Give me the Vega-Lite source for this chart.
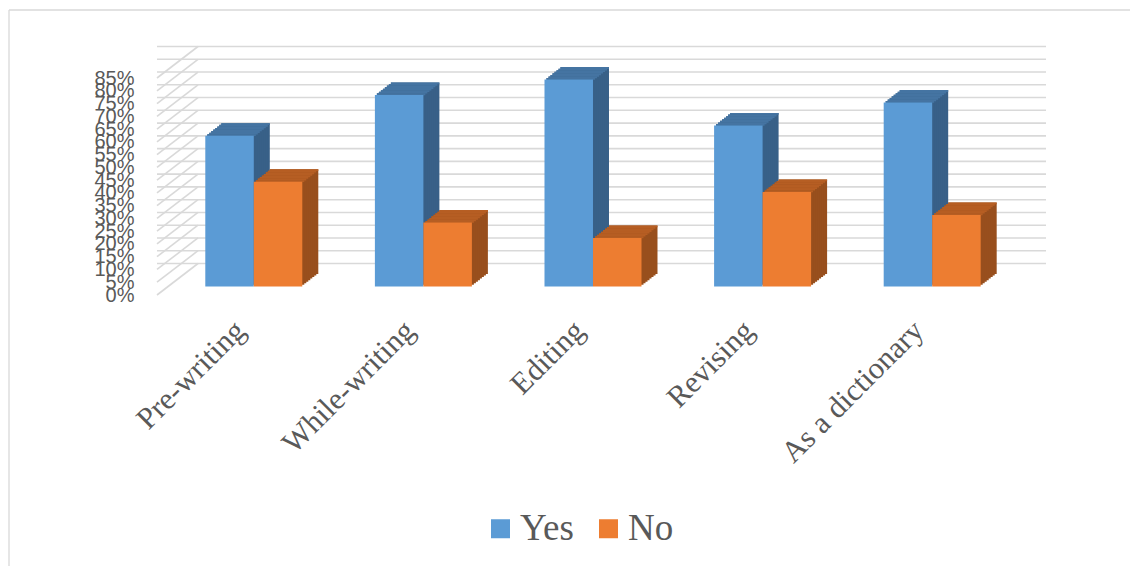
{
  "$schema": "https://vega.github.io/schema/vega-lite/v6.json",
  "width": 848,
  "height": 217,
  "autosize": "none",
  "padding": {"left": 157, "top": 78, "right": 125, "bottom": 271},
  "background": "white",
  "config": {
    "view": {"stroke": null},
    "axisY": {"title": null, "labelExpr": "datum.value + '%'", "labelFont": "Liberation Sans", "labelFontSize": 20, "labelColor": "#595959", "ticks": false, "domain": false, "grid": false, "labelPadding": 23, "labelOverlap": false, "labelBound": false}
  },
  "datasets": {
    "responses": [
      {"Use": "Pre-writing", "Response": "Yes", "Percent": 59},
      {"Use": "Pre-writing", "Response": "No", "Percent": 41},
      {"Use": "While-writing", "Response": "Yes", "Percent": 75},
      {"Use": "While-writing", "Response": "No", "Percent": 25},
      {"Use": "Editing", "Response": "Yes", "Percent": 81},
      {"Use": "Editing", "Response": "No", "Percent": 19},
      {"Use": "Revising", "Response": "Yes", "Percent": 63},
      {"Use": "Revising", "Response": "No", "Percent": 37},
      {"Use": "As a dictionary", "Response": "Yes", "Percent": 72},
      {"Use": "As a dictionary", "Response": "No", "Percent": 28}
    ],
    "grid": [
      {"level": 0}, {"level": 5}, {"level": 10}, {"level": 15}, {"level": 20}, {"level": 25},
      {"level": 30}, {"level": 35}, {"level": 40}, {"level": 45}, {"level": 50}, {"level": 55},
      {"level": 60}, {"level": 65}, {"level": 70}, {"level": 75}, {"level": 80}, {"level": 85}
    ]
  },
  "layer": [
    {
      "data": {"values": [{}]},
      "mark": {"type": "rule", "color": "#D9D9D9", "strokeWidth": 1.3},
      "encoding": {"x": {"value": -148}, "x2": {"value": 973}, "y": {"value": -68}}
    },
    {
      "data": {"values": [{}]},
      "mark": {"type": "rule", "color": "#D9D9D9", "strokeWidth": 1.3},
      "encoding": {"x": {"value": -148}, "y": {"value": -68}, "y2": {"value": 488}}
    },
    {
      "data": {"name": "grid"},
      "mark": {"type": "rule", "color": "#D9D9D9", "strokeWidth": 1.6, "xOffset": 41, "x2Offset": 41, "yOffset": -31.5, "y2Offset": -31.5},
      "encoding": {"y": {"field": "level", "type": "quantitative", "title": null, "scale": {"domain": [0, 85], "nice": false}, "axis": {"values": [0,5,10,15,20,25,30,35,40,45,50,55,60,65,70,75,80,85]}}}
    },
    {
      "data": {"name": "grid"},
      "mark": {"type": "rule", "color": "#D9D9D9", "strokeWidth": 1.6, "y2Offset": -31.5},
      "encoding": {
        "x": {"value": 0}, "x2": {"value": 41},
        "y": {"field": "level", "type": "quantitative", "title": null, "axis": {"values": [0,5,10,15,20,25,30,35,40,45,50,55,60,65,70,75,80,85]}},
        "y2": {"field": "level"}
      }
    },
    {
      "data": {"name": "responses"},
      "encoding": {
        "x": {
          "field": "Use", "type": "nominal",
          "scale": {"domain": ["Pre-writing", "While-writing", "Editing", "Revising", "As a dictionary"], "paddingInner": 0.428, "paddingOuter": 0.214},
          "axis": {"title": null, "labelAngle": -45, "labelFont": "Liberation Serif", "labelFontSize": 30.5, "labelColor": "#595959", "labelPadding": 20, "labelOffset": -12, "ticks": false, "domain": false, "grid": false, "labelLimit": 400, "labelBound": false, "labelOverlap": false}
        },
        "y": {
          "field": "Percent", "type": "quantitative", "title": null,
          "scale": {"domain": [0, 85], "nice": false},
          "axis": {"values": [0,5,10,15,20,25,30,35,40,45,50,55,60,65,70,75,80,85]}
        }
      },
      "layer": [
        {"mark": {"type": "bar", "yOffset": -21.1, "y2Offset": -21.1}, "encoding": {"xOffset": {"field": "Response", "type": "nominal", "scale": {"domain": ["Yes", "No"], "range": [28, 125], "paddingInner": 0, "paddingOuter": 0}}, "color": {"condition": {"test": "datum.Response === 'Yes'", "value": "#386088"}, "value": "#984F1D"}}},
        {"mark": {"type": "bar", "yOffset": -19.54, "y2Offset": -19.54}, "encoding": {"xOffset": {"field": "Response", "type": "nominal", "scale": {"domain": ["Yes", "No"], "range": [26, 123], "paddingInner": 0, "paddingOuter": 0}}, "color": {"condition": {"test": "datum.Response === 'Yes'", "value": "#386088"}, "value": "#984F1D"}}},
        {"mark": {"type": "bar", "yOffset": -17.98, "y2Offset": -17.98}, "encoding": {"xOffset": {"field": "Response", "type": "nominal", "scale": {"domain": ["Yes", "No"], "range": [24, 121], "paddingInner": 0, "paddingOuter": 0}}, "color": {"condition": {"test": "datum.Response === 'Yes'", "value": "#386088"}, "value": "#984F1D"}}},
        {"mark": {"type": "bar", "yOffset": -16.41, "y2Offset": -16.41}, "encoding": {"xOffset": {"field": "Response", "type": "nominal", "scale": {"domain": ["Yes", "No"], "range": [22, 119], "paddingInner": 0, "paddingOuter": 0}}, "color": {"condition": {"test": "datum.Response === 'Yes'", "value": "#386088"}, "value": "#984F1D"}}},
        {"mark": {"type": "bar", "yOffset": -14.85, "y2Offset": -14.85}, "encoding": {"xOffset": {"field": "Response", "type": "nominal", "scale": {"domain": ["Yes", "No"], "range": [20, 117], "paddingInner": 0, "paddingOuter": 0}}, "color": {"condition": {"test": "datum.Response === 'Yes'", "value": "#386088"}, "value": "#984F1D"}}},
        {"mark": {"type": "bar", "yOffset": -13.29, "y2Offset": -13.29}, "encoding": {"xOffset": {"field": "Response", "type": "nominal", "scale": {"domain": ["Yes", "No"], "range": [18, 115], "paddingInner": 0, "paddingOuter": 0}}, "color": {"condition": {"test": "datum.Response === 'Yes'", "value": "#386088"}, "value": "#984F1D"}}},
        {"mark": {"type": "bar", "yOffset": -11.73, "y2Offset": -11.73}, "encoding": {"xOffset": {"field": "Response", "type": "nominal", "scale": {"domain": ["Yes", "No"], "range": [16, 113], "paddingInner": 0, "paddingOuter": 0}}, "color": {"condition": {"test": "datum.Response === 'Yes'", "value": "#386088"}, "value": "#984F1D"}}},
        {"mark": {"type": "bar", "yOffset": -10.16, "y2Offset": -10.16}, "encoding": {"xOffset": {"field": "Response", "type": "nominal", "scale": {"domain": ["Yes", "No"], "range": [14, 111], "paddingInner": 0, "paddingOuter": 0}}, "color": {"condition": {"test": "datum.Response === 'Yes'", "value": "#386088"}, "value": "#984F1D"}}},

        {"mark": {"type": "bar", "yOffset": -21.1, "y2Offset": -19.3}, "encoding": {"y2": {"field": "Percent"}, "xOffset": {"field": "Response", "type": "nominal", "scale": {"domain": ["Yes", "No"], "range": [28, 125], "paddingInner": 0, "paddingOuter": 0}}, "color": {"condition": {"test": "datum.Response === 'Yes'", "value": "#4574A2"}, "value": "#B65E23"}}},
        {"mark": {"type": "bar", "yOffset": -19.54, "y2Offset": -17.74}, "encoding": {"y2": {"field": "Percent"}, "xOffset": {"field": "Response", "type": "nominal", "scale": {"domain": ["Yes", "No"], "range": [26, 123], "paddingInner": 0, "paddingOuter": 0}}, "color": {"condition": {"test": "datum.Response === 'Yes'", "value": "#4574A2"}, "value": "#B65E23"}}},
        {"mark": {"type": "bar", "yOffset": -17.98, "y2Offset": -16.18}, "encoding": {"y2": {"field": "Percent"}, "xOffset": {"field": "Response", "type": "nominal", "scale": {"domain": ["Yes", "No"], "range": [24, 121], "paddingInner": 0, "paddingOuter": 0}}, "color": {"condition": {"test": "datum.Response === 'Yes'", "value": "#4574A2"}, "value": "#B65E23"}}},
        {"mark": {"type": "bar", "yOffset": -16.41, "y2Offset": -14.61}, "encoding": {"y2": {"field": "Percent"}, "xOffset": {"field": "Response", "type": "nominal", "scale": {"domain": ["Yes", "No"], "range": [22, 119], "paddingInner": 0, "paddingOuter": 0}}, "color": {"condition": {"test": "datum.Response === 'Yes'", "value": "#4574A2"}, "value": "#B65E23"}}},
        {"mark": {"type": "bar", "yOffset": -14.85, "y2Offset": -13.05}, "encoding": {"y2": {"field": "Percent"}, "xOffset": {"field": "Response", "type": "nominal", "scale": {"domain": ["Yes", "No"], "range": [20, 117], "paddingInner": 0, "paddingOuter": 0}}, "color": {"condition": {"test": "datum.Response === 'Yes'", "value": "#4574A2"}, "value": "#B65E23"}}},
        {"mark": {"type": "bar", "yOffset": -13.29, "y2Offset": -11.49}, "encoding": {"y2": {"field": "Percent"}, "xOffset": {"field": "Response", "type": "nominal", "scale": {"domain": ["Yes", "No"], "range": [18, 115], "paddingInner": 0, "paddingOuter": 0}}, "color": {"condition": {"test": "datum.Response === 'Yes'", "value": "#4574A2"}, "value": "#B65E23"}}},
        {"mark": {"type": "bar", "yOffset": -11.73, "y2Offset": -9.93}, "encoding": {"y2": {"field": "Percent"}, "xOffset": {"field": "Response", "type": "nominal", "scale": {"domain": ["Yes", "No"], "range": [16, 113], "paddingInner": 0, "paddingOuter": 0}}, "color": {"condition": {"test": "datum.Response === 'Yes'", "value": "#4574A2"}, "value": "#B65E23"}}},
        {"mark": {"type": "bar", "yOffset": -10.16, "y2Offset": -8.36}, "encoding": {"y2": {"field": "Percent"}, "xOffset": {"field": "Response", "type": "nominal", "scale": {"domain": ["Yes", "No"], "range": [14, 111], "paddingInner": 0, "paddingOuter": 0}}, "color": {"condition": {"test": "datum.Response === 'Yes'", "value": "#4574A2"}, "value": "#B65E23"}}},

        {
          "mark": {"type": "bar", "yOffset": -8.6, "y2Offset": -8.6},
          "encoding": {
            "xOffset": {"field": "Response", "type": "nominal", "scale": {"domain": ["Yes", "No"], "range": [12, 109], "paddingInner": 0, "paddingOuter": 0}},
            "color": {
              "field": "Response", "type": "nominal",
              "scale": {"domain": ["Yes", "No"], "range": ["#5B9BD5", "#ED7D31"]},
              "legend": {"orient": "none", "legendX": 325, "legendY": 432, "direction": "horizontal", "title": null, "symbolType": "square", "symbolSize": 361, "symbolStrokeWidth": 0, "symbolOpacity": 1, "labelFont": "Liberation Serif", "labelFontSize": 37, "labelColor": "#595959", "labelOffset": 1, "columnPadding": 16, "padding": 0}
            }
          }
        }
      ],
      "resolve": {"scale": {"xOffset": "independent"}}
    }
  ]
}
